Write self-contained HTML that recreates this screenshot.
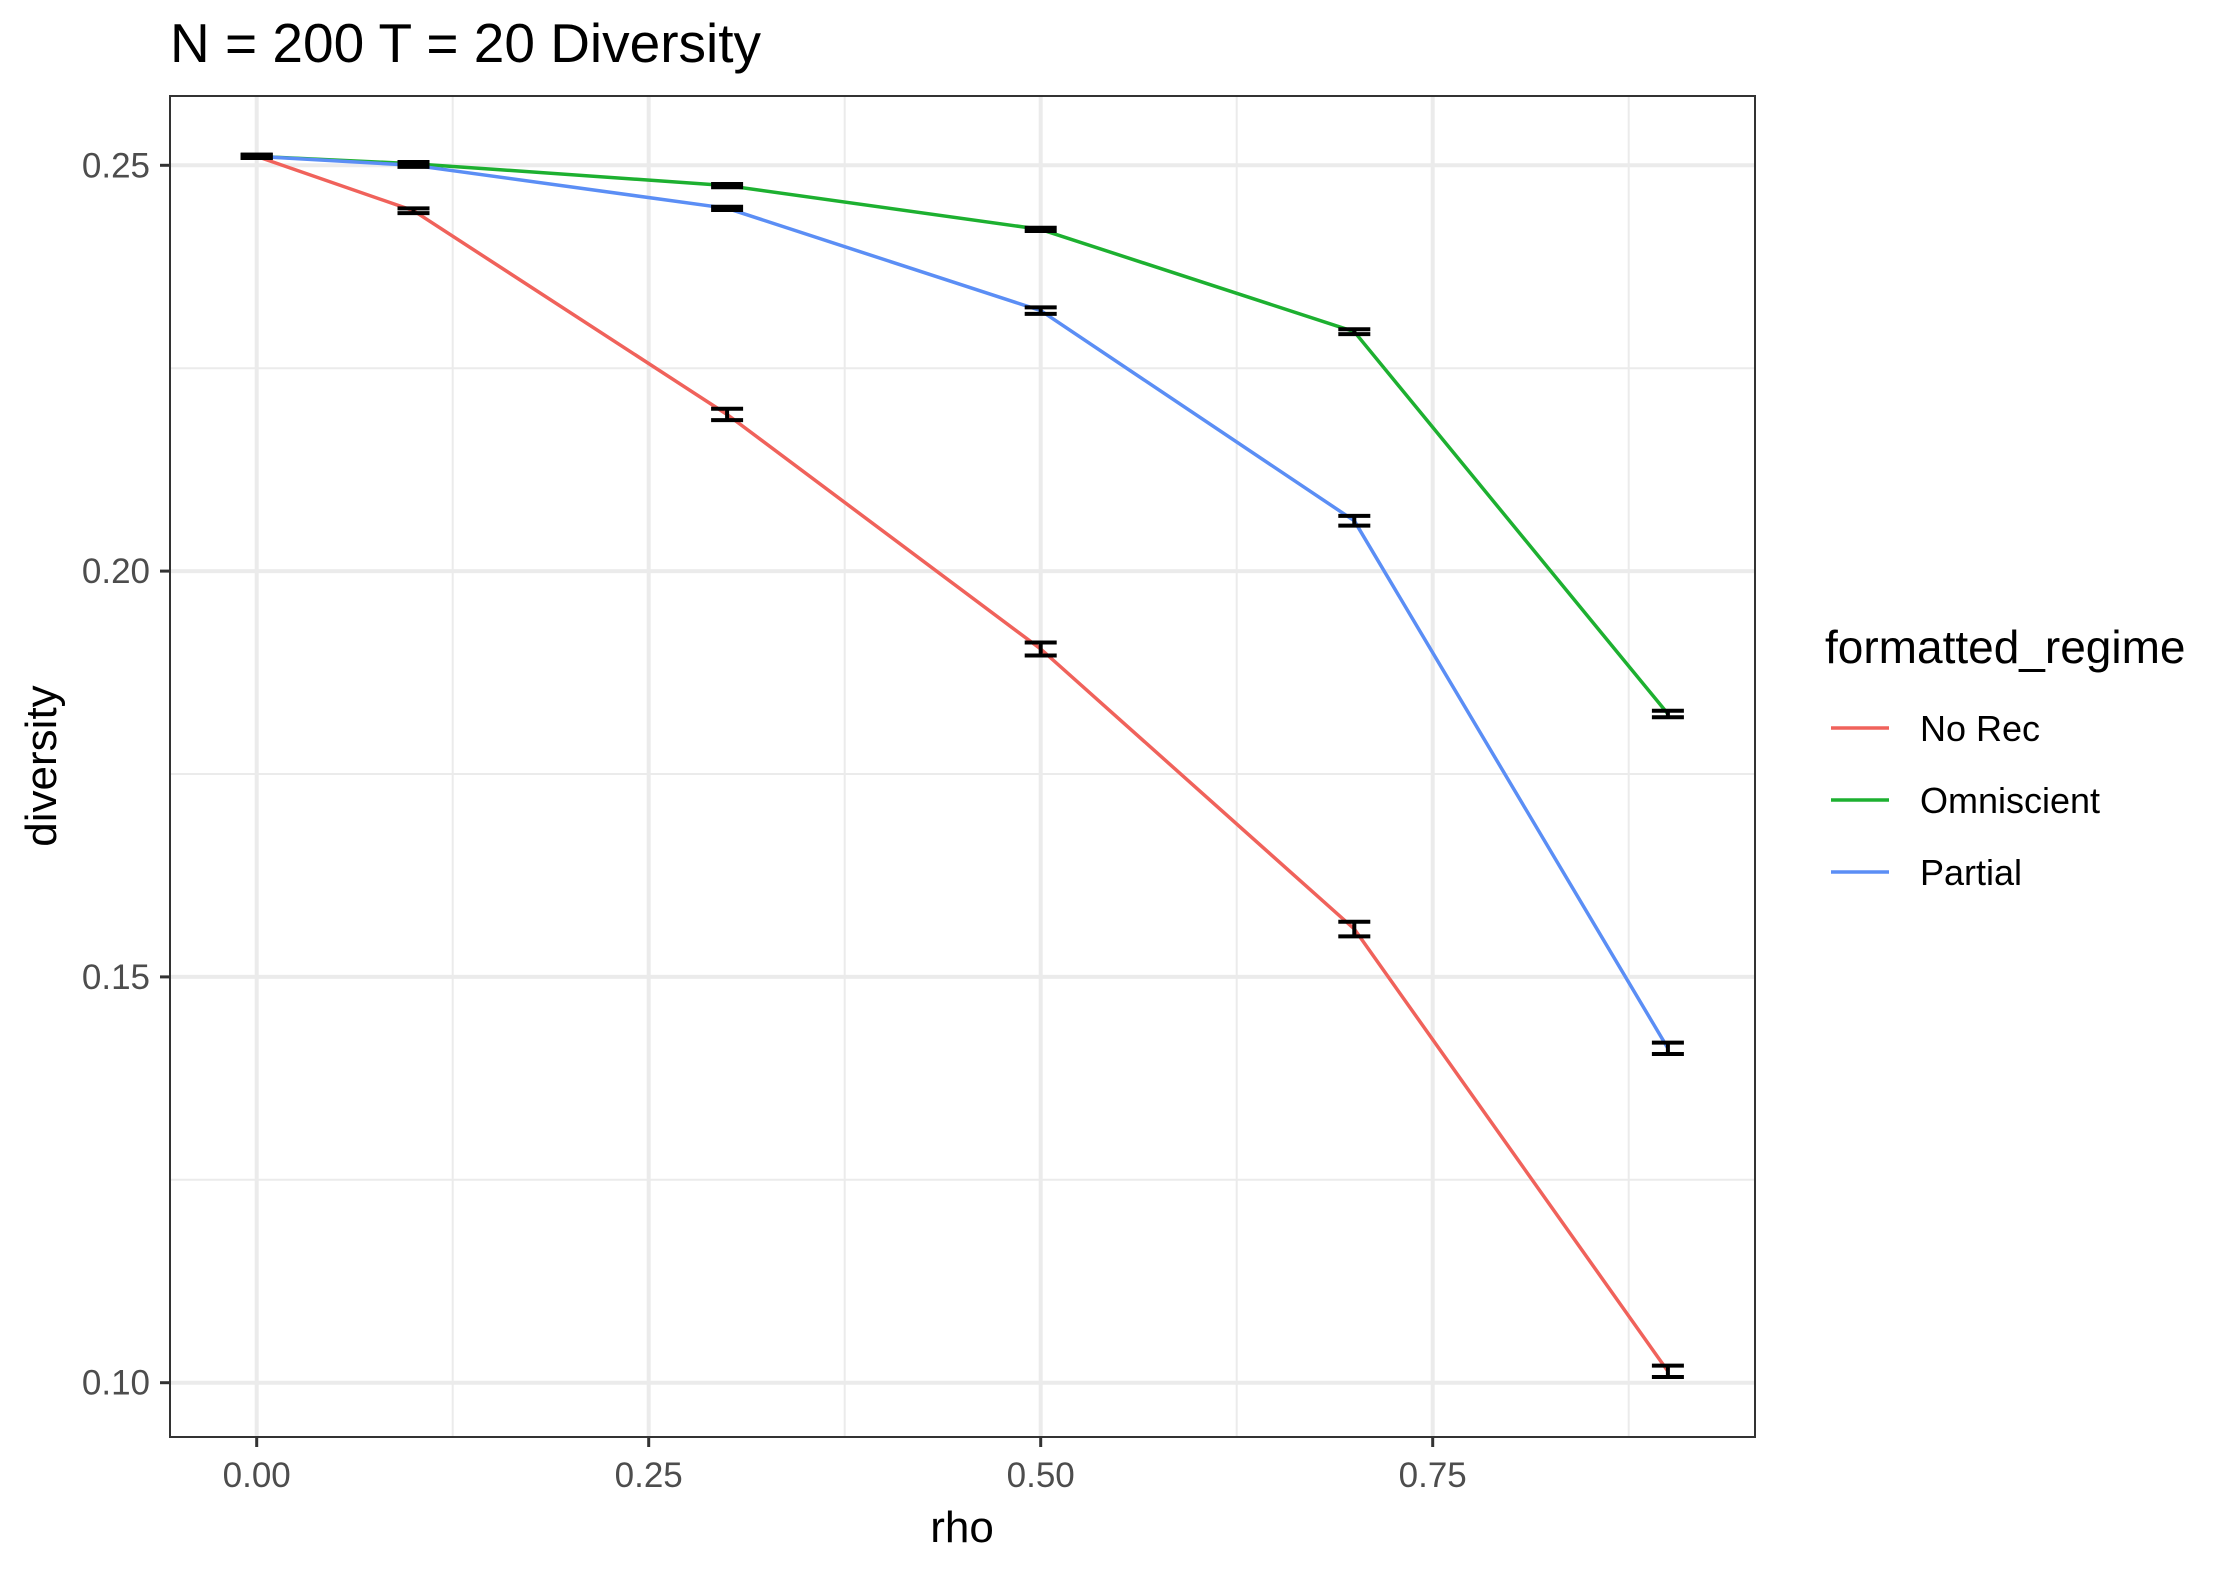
<!DOCTYPE html>
<html><head><meta charset="utf-8"><style>
html,body{margin:0;padding:0;background:#fff;}
svg{display:block;font-family:"Liberation Sans",Arial,sans-serif;}
</style></head><body>
<svg id="chart" width="2229" height="1574" viewBox="0 0 2229 1574" xmlns="http://www.w3.org/2000/svg">
<rect width="2229" height="1574" fill="#fff"/>
<text x="170" y="62" font-size="55" fill="#000">N = 200 T = 20 Diversity</text>
<g id="grid"></g>
<g id="series"></g>
<g id="errs"></g>
<rect x="170" y="96" width="1585" height="1341" fill="none" stroke="#333" stroke-width="2"/>
<g id="axes"></g>
<text x="962" y="1542" font-size="44" text-anchor="middle" fill="#000">rho</text>
<text transform="translate(56,766) rotate(-90)" font-size="44" text-anchor="middle" fill="#000">diversity</text>
<g id="legend">
<text x="1825" y="663" font-size="46" fill="#000">formatted_regime</text>
</g>
</svg>
<script>
const rho = [0, 0.1, 0.3, 0.5, 0.7, 0.9];
const seriesNames = ["No Rec", "Omniscient", "Partial"];
const seriesColors = ["#F0625B", "#1DB030", "#5B8EF5"];
const noRec = [0.2511, 0.2444, 0.2193, 0.1904, 0.1559, 0.1014];
const omniscient = [0.2511, 0.2502, 0.2475, 0.2421, 0.2295, 0.1824];
const partial = [0.2511, 0.2500, 0.2447, 0.2321, 0.2062, 0.1412];
const noRecSe = [0.0002, 0.0003, 0.0007, 0.0008, 0.0009, 0.0007];
const omniscientSe = [0.0002, 0.0002, 0.0002, 0.0002, 0.0003, 0.0004];
const partialSe = [0.0002, 0.0002, 0.0002, 0.0004, 0.0006, 0.0007];
const xTicks = [0, 0.25, 0.5, 0.75];
const xTickLabels = ["0.00", "0.25", "0.50", "0.75"];
const xMinor = [0.125, 0.375, 0.625, 0.875];
const yTicks = [0.10, 0.15, 0.20, 0.25];
const yTickLabels = ["0.10", "0.15", "0.20", "0.25"];
const yMinor = [0.125, 0.175, 0.225];

const NS = "http://www.w3.org/2000/svg";
const PL = 170, PR = 1755, PT = 96, PB = 1437;
function xs(v){ return 256.7 + v * 1568; }
function ys(v){ return 165.3 + (0.25 - v) * 8116; }
function mk(tag, attrs, parent){
  const e = document.createElementNS(NS, tag);
  for (const k in attrs) e.setAttribute(k, attrs[k]);
  parent.appendChild(e); return e;
}
const grid = document.getElementById('grid');
const axes = document.getElementById('axes');
mk('rect', {x:PL, y:PT, width:PR-PL, height:PB-PT, fill:'#fff'}, grid);
xMinor.forEach(v => { const l = mk('line', {x1:xs(v), x2:xs(v), y1:PT, y2:PB, stroke:'#ebebeb', 'stroke-width':2}, grid);
  
   });
yMinor.forEach(v => { const l = mk('line', {x1:PL, x2:PR, y1:ys(v), y2:ys(v), stroke:'#ebebeb', 'stroke-width':2}, grid);
  
   });
xTicks.forEach((v, i) => {
  const l = mk('line', {x1:xs(v), x2:xs(v), y1:PT, y2:PB, stroke:'#ebebeb', 'stroke-width':4}, grid);
  
  
  const t = mk('line', {x1:xs(v), x2:xs(v), y1:PB, y2:PB+10, stroke:'#333', 'stroke-width':3}, axes);
  
  
  const tx = mk('text', {x:xs(v), y:1487, 'font-size':35, 'text-anchor':'middle', fill:'#4d4d4d'}, axes);
  tx.textContent = xTickLabels[i];
  
  
});
yTicks.forEach((v, i) => {
  const l = mk('line', {x1:PL, x2:PR, y1:ys(v), y2:ys(v), stroke:'#ebebeb', 'stroke-width':4}, grid);
  
  
  const t = mk('line', {x1:PL-10, x2:PL, y1:ys(v), y2:ys(v), stroke:'#333', 'stroke-width':3}, axes);
  
  
  const tx = mk('text', {x:150, y:ys(v)+12, 'font-size':35, 'text-anchor':'end', fill:'#4d4d4d'}, axes);
  tx.textContent = yTickLabels[i];
  
  
});
const allVals = [noRec, omniscient, partial];
const allSe = [noRecSe, omniscientSe, partialSe];
const sg = document.getElementById('series');
const eg = document.getElementById('errs');
const lg = document.getElementById('legend');
allVals.forEach((vals, s) => {
  const pts = vals.map((v, i) => xs(rho[i]).toFixed(1) + ',' + ys(v).toFixed(1)).join(' ');
  const p = mk('polyline', {points:pts, fill:'none', stroke:seriesColors[s], 'stroke-width':3.5, 'stroke-linejoin':'round'}, sg);
  
  
  vals.forEach((v, i) => {
    const x = xs(rho[i]), y1 = ys(v + allSe[s][i]), y2 = ys(v - allSe[s][i]);
    const g = mk('path', {d:`M${x-16},${y1}H${x+16}M${x},${y1}V${y2}M${x-16},${y2}H${x+16}`, fill:'none', stroke:'#000', 'stroke-width':4}, eg);
    
    
  });
  const ly = 728 + s * 72;
  const ll = mk('line', {x1:1831, x2:1889, y1:ly, y2:ly, stroke:seriesColors[s], 'stroke-width':3.5}, lg);
  
  
  const lt = mk('text', {x:1920, y:ly+13, 'font-size':36, fill:'#000'}, lg);
  lt.textContent = seriesNames[s];
  
  
});
</script>
</body></html>
